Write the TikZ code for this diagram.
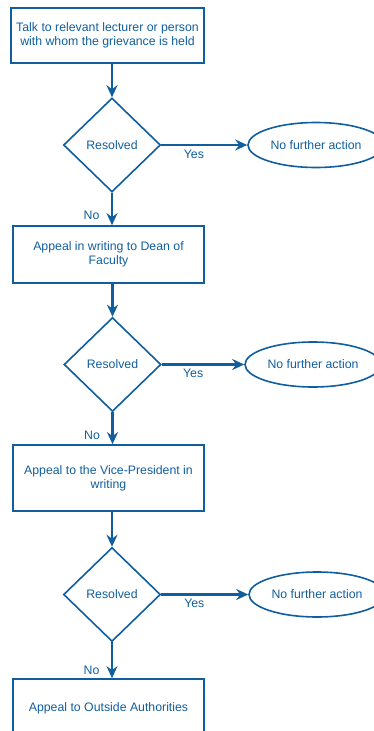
\documentclass[tikz,border=0pt]{standalone}
\usepackage{fontspec}
\setmainfont{Liberation Sans}
\usepackage{tikz}
\usetikzlibrary{arrows.meta,shapes.geometric,positioning}
\usepackage{xcolor}
\definecolor{gvblue}{RGB}{16,94,158}
\tikzstyle{stepbox} = [rectangle, draw=gvblue, line width=1.7pt, text=gvblue, align=center, inner sep=0pt]
\tikzstyle{decision} = [diamond, draw=gvblue, line width=1.6pt, text=gvblue, minimum width=97pt, minimum height=94pt, inner sep=0pt]
\tikzstyle{outcome} = [ellipse, draw=gvblue, line width=1.6pt, text=gvblue, minimum width=136pt, minimum height=45pt, inner sep=0pt]
\tikzstyle{arrow} = [line width=2.2pt,-{Stealth[length=12pt,width=11pt,inset=4pt]},color=gvblue]
\tikzstyle{lbl} = [text=gvblue, inner sep=1.5pt]

\begin{document}
\begin{tikzpicture}[x=1pt,y=-1pt,font=\fontsize{12.3}{14}\selectfont]
\useasboundingbox (0,0) rectangle (373,731);

% Steps
\node[stepbox, minimum width=193pt, minimum height=55pt] (talk) at (107.5,35.5) {Talk to relevant lecturer or person\\with whom the grievance is held};
\node[stepbox, minimum width=191pt, minimum height=57pt] (dean) at (108.5,254.5) {Appeal in writing to Dean of\\Faculty};
\node[stepbox, minimum width=191pt, minimum height=66pt] (vice) at (108.5,478) {Appeal to the Vice-President in\\writing};
\node[stepbox, minimum width=191pt, minimum height=58pt] (outside) at (108.5,708) {Appeal to Outside Authorities};

% Decisions
\node[decision] (res1) at (112,145) {Resolved};
\node[decision] (res2) at (112.5,364.5) {Resolved};
\node[decision] (res3) at (112,594.5) {Resolved};

% Outcomes
\node[outcome] (none1) at (316,145) {No further action};
\node[outcome] (none2) at (313,364.5) {No further action};
\node[outcome] (none3) at (317,594.5) {No further action};

% Arrows
\draw[arrow] (res1.north |- talk.south) -- (res1.north);
\draw[arrow] (res1.east) -- (none1.west) node[lbl, pos=0.38, below=2pt] {Yes};
\draw[arrow] (res1.south) -- (res1.south |- dean.north) node[lbl, pos=0.7, left=10pt] {No};

\draw[arrow] (res2.north |- dean.south) -- (res2.north);
\draw[arrow] (res2.east) -- (none2.west) node[lbl, pos=0.38, below=2pt] {Yes};
\draw[arrow] (res2.south) -- (res2.south |- vice.north) node[lbl, pos=0.72, left=10pt] {No};

\draw[arrow] (res3.north |- vice.south) -- (res3.north);
\draw[arrow] (res3.east) -- (none3.west) node[lbl, pos=0.38, below=2pt] {Yes};
\draw[arrow] (res3.south) -- (res3.south |- outside.north) node[lbl, pos=0.78, left=10pt] {No};
\end{tikzpicture}
\end{document}
